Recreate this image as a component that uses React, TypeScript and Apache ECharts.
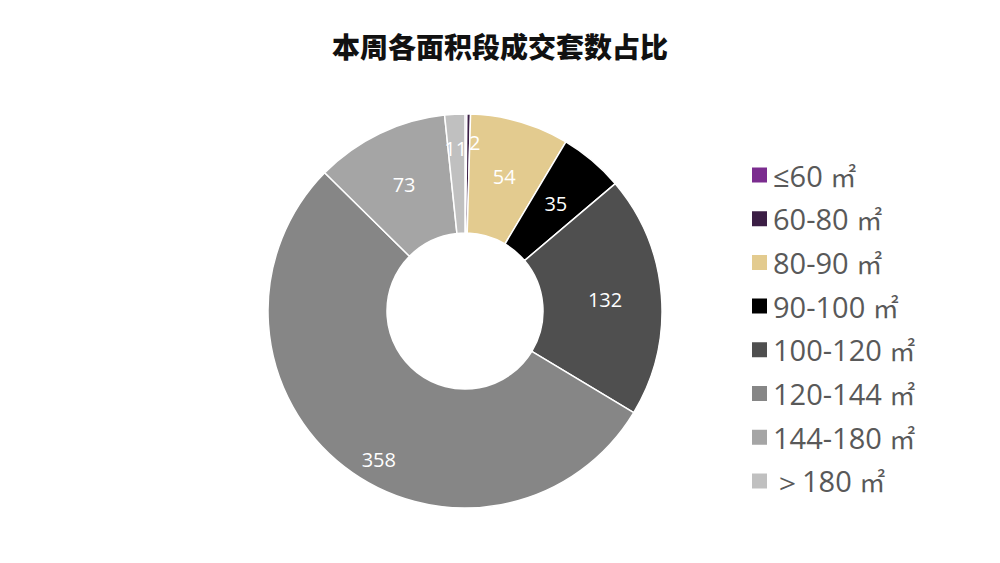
import React, { useEffect, useRef } from "react";
import * as echarts from "echarts";

const titleText = "本周各面积段成交套数占比";
const ranges = ["≤60", "60-80", "80-90", "90-100", "100-120", "120-144", "144-180", "＞180"];
const unit = "㎡";
const categories = ranges.map((r) => `${r} ${unit}`);
const values = [1, 2, 54, 35, 132, 358, 73, 11];
const colors = ["#7B2C8F", "#3B1E45", "#E3CB8F", "#000000", "#4F4F4F", "#868686", "#A5A5A5", "#C0C0C0"];
const showLabel = [false, true, true, true, true, true, true, true];
const labelOffsets: number[][] = [[0, 0], [7, -28], [0, 0], [0, 0], [0, 0], [0, 38], [0, 0], [-2, -22]];

export default function App() {
  const ref = useRef<HTMLDivElement>(null);
  useEffect(() => {
    if (!ref.current) return;
    const chart = echarts.init(ref.current, undefined, { renderer: "svg" });
    chart.setOption({
      animation: false,
      backgroundColor: "#ffffff",
      title: {
        text: titleText,
        left: "center",
        top: 27,
        textStyle: {
          fontFamily: "Noto Sans CJK SC",
          fontSize: 28,
          fontWeight: 900,
          color: "#111111",
        },
      },
      legend: {
        orient: "vertical",
        left: 745,
        top: 154,
        itemWidth: 17,
        itemHeight: 17,
        itemGap: 11.7,
        icon: "rect",
        formatter: (name: string) => {
          const idx = categories.indexOf(name);
          return `${ranges[idx]} {u|${unit}}`;
        },
        textStyle: {
          fontFamily: "Open Sans",
          fontSize: 29,
          color: "#595959",
          lineHeight: 32,
          rich: {
            u: {
              fontFamily: "Noto Sans CJK SC",
              fontSize: 26,
              color: "#595959",
              lineHeight: 32,
            },
          },
        },
        data: categories,
      },
      series: [
        {
          type: "pie",
          center: [465, 311],
          radius: [78, 197],
          startAngle: 90,
          clockwise: true,
          avoidLabelOverlap: false,
          minShowLabelAngle: 0,
          emphasis: { disabled: true },
          labelLine: { show: false },
          itemStyle: { borderColor: "#ffffff", borderWidth: 1.5 },
          label: {
            show: true,
            position: "inside",
            color: "#ffffff",
            fontFamily: "Open Sans",
            fontSize: 20,
            formatter: "{c}",
          },
          data: categories.map((name, i) => ({
            name,
            value: values[i],
            itemStyle: { color: colors[i] },
            label: { show: showLabel[i], offset: labelOffsets[i] },
          })),
        },
      ],
    });
    // ECharts hides inside labels of very thin sectors; the reference shows the "2" label, so re-enable it.
    try {
      const data = (chart as any).getModel().getSeriesByIndex(0).getData();
      data.each((idx: number) => {
        if (!showLabel[idx]) return;
        const el = data.getItemGraphicEl(idx);
        const lab = el && el.getTextContent && el.getTextContent();
        if (lab && lab.ignore) {
          lab.ignore = false;
          lab.markRedraw && lab.markRedraw();
        }
      });
      (chart as any).getZr().refreshImmediately();
    } catch (e) {
      // ignore
    }
    return () => chart.dispose();
  }, []);
  return (
    <div
      ref={ref}
      style={{ position: "fixed", left: 0, top: 0, width: 1000, height: 563 }}
    />
  );
}
